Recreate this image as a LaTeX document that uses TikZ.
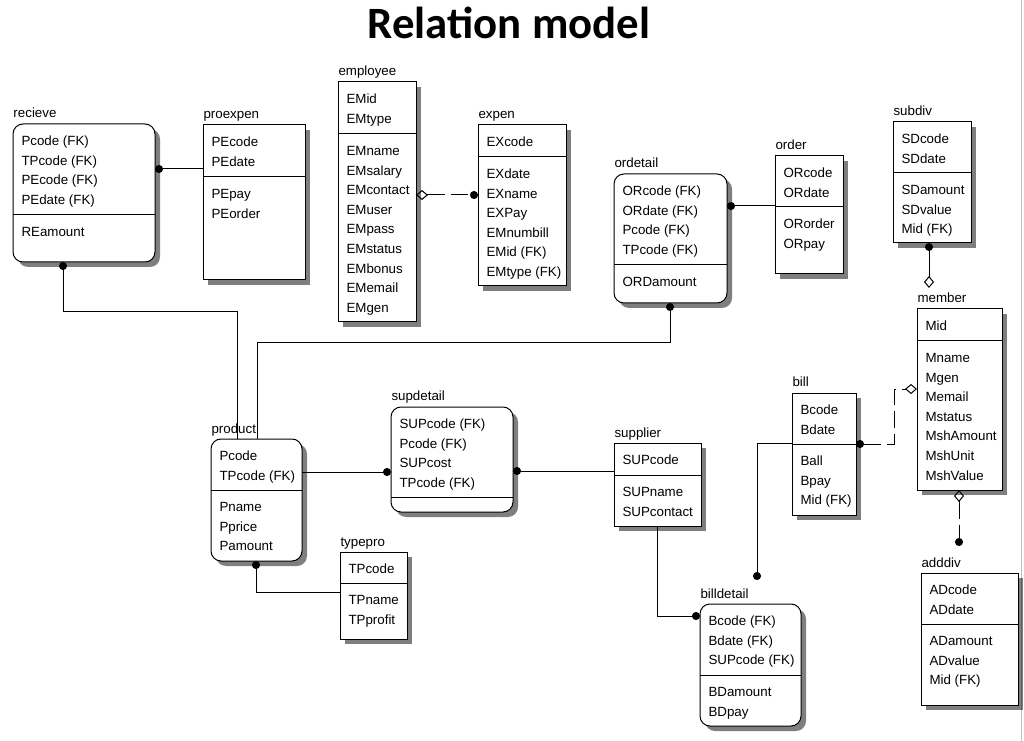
\documentclass[tikz,border=0pt]{standalone}
\usepackage{fontspec}
\setmainfont{Liberation Sans}
\newfontfamily\titlefont{Carlito}
\usetikzlibrary{arrows.meta, calc, shadows}

\tikzset{
  entity box/.style={draw, fill=white, inner sep=0pt, outer sep=0pt, anchor=north west,
    drop shadow={shadow xshift=3.75pt, shadow yshift=-3.75pt, fill=black, opacity=.5}},
  dependent/.style={rounded corners=7.5pt},
  entity label/.style={anchor=base west, inner sep=0pt, font=\fontsize{10}{14.7}\selectfont},
  entity text/.style={anchor=north west, inner sep=0pt, align=left, font=\fontsize{10}{14.7}\selectfont},
  rel/.style={line width=0.75pt},
  optional/.style={dash pattern=on 13pt off 4.5pt},
  ball/.tip={Circle[length=6pt]},
  rhomb/.tip={Diamond[open, length=9pt, width=7.5pt]},
}

% name, left, top, width, height, divider, keys, attributes, style
\newcommand{\entity}[9]{%
  \node[entity box, #9, minimum width=#4*0.75pt, minimum height=#5*0.75pt] (#1) at (#2,#3) {};
  \node[entity label] (#1-label) at ($(#1.north west)+(0,-6)$) {#1};
  \draw ($(#1.north west)+(0,#6)$) -- ($(#1.north east)+(0,#6)$);
  \node[entity text] (#1-keys) at ($(#1.north west)+(8,7.3)$) {\strut #7};
  \node[entity text] (#1-attrs) at ($(#1.north west)+(8,#6+7.3)$) {\strut #8};
}

\begin{document}
\begin{tikzpicture}[x=0.75pt, y=-0.75pt, line width=0.75pt]
  \useasboundingbox (0,0) rectangle (1024,741);
  \draw[black!25] (1021.5,0) -- (1021.5,741);
  \node[font=\titlefont\bfseries\fontsize{33.6}{40}\selectfont, anchor=base] (title) at (509,39) {Relation model};

  \entity{recieve}{13}{124}{142}{138}{91}{Pcode (FK)\\TPcode (FK)\\PEcode (FK)\\PEdate (FK)}{REamount}{dependent}
  \entity{proexpen}{203}{125}{102}{155}{52}{PEcode\\PEdate}{PEpay\\PEorder}{}
  \entity{employee}{338}{82}{78}{240}{52}{EMid\\EMtype}{EMname\\EMsalary\\EMcontact\\EMuser\\EMpass\\EMstatus\\EMbonus\\EMemail\\EMgen}{}
  \entity{expen}{478}{125}{88}{161}{32}{EXcode}{EXdate\\EXname\\EXPay\\EMnumbill\\EMid (FK)\\EMtype (FK)}{}
  \entity{ordetail}{614}{174}{113}{129}{91}{ORcode (FK)\\ORdate (FK)\\Pcode (FK)\\TPcode (FK)}{ORDamount}{dependent}
  \entity{order}{775}{156}{68}{118}{51}{ORcode\\ORdate}{ORorder\\ORpay}{}
  \entity{subdiv}{893}{122}{78}{121}{51}{SDcode\\SDdate}{SDamount\\SDvalue\\Mid (FK)}{}
  \entity{member}{917}{309}{85}{181}{32}{Mid}{Mname\\Mgen\\Memail\\Mstatus\\MshAmount\\MshUnit\\MshValue}{}
  \entity{bill}{792}{393}{64}{122}{51}{Bcode\\Bdate}{Ball\\Bpay\\Mid (FK)}{}
  \entity{product}{211}{439}{91}{122}{51}{Pcode\\TPcode (FK)}{Pname\\Pprice\\Pamount}{dependent}
  \entity{supdetail}{391}{407}{122}{105}{90}{SUPcode (FK)\\Pcode (FK)\\SUPcost\\TPcode (FK)}{}{dependent}
  \entity{supplier}{614}{443}{87}{83}{32}{SUPcode}{SUPname\\SUPcontact}{}
  \entity{typepro}{340}{552}{67}{87}{31}{TPcode}{TPname\\TPprofit}{}
  \entity{billdetail}{700}{604}{101}{122}{71}{Bcode (FK)\\Bdate (FK)\\SUPcode (FK)}{BDamount\\BDpay}{dependent}
  \entity{adddiv}{921}{573}{97}{132}{51}{ADcode\\ADdate}{ADamount\\ADvalue\\Mid (FK)}{}

  % recieve -- proexpen
  \coordinate (r1) at ($(recieve.north east)+(0,45)$);
  \draw[rel, ball-] (r1) -- (r1 -| proexpen.west);
  % recieve -- product
  \coordinate (r2) at ($(recieve.south west)+(50,0)$);
  \coordinate (p1) at ($(product.north west)+(26,0)$);
  \draw[rel, ball-] (r2) -- ++(0,50) -| (p1);
  % ordetail -- product
  \coordinate (o1) at ($(ordetail.south west)+(56,0)$);
  \coordinate (p2) at ($(product.north west)+(46,0)$);
  \draw[rel, ball-] (o1) -- ++(0,40) -| (p2);
  % product -- supdetail
  \coordinate (p3) at ($(product.north east)+(0,33)$);
  \draw[rel, -ball] (p3) -- (p3 -| supdetail.west);
  % supdetail -- supplier
  \coordinate (s1) at ($(supdetail.north east)+(0,64)$);
  \draw[rel, ball-] (s1) -- (s1 -| supplier.west);
  % product -- typepro
  \coordinate (p4) at ($(product.south west)+(45,0)$);
  \coordinate (t1) at ($(typepro.north west)+(0,40)$);
  \draw[rel, ball-] (p4) |- (t1);
  % supplier -- billdetail
  \coordinate (s2) at ($(supplier.south west)+(43,0)$);
  \coordinate (b1) at ($(billdetail.north west)+(0,12)$);
  \draw[rel, -ball] (s2) |- (b1);
  % bill -- billdetail
  \coordinate (b2) at ($(bill.north west)+(0,50)$);
  \coordinate (b3) at ($(billdetail.north west)+(57,-24)$);
  \draw[rel, -ball] (b2) -| (b3);
  % ordetail -- order
  \coordinate (o2) at ($(ordetail.north east)+(0,32)$);
  \draw[rel, ball-] (o2) -- (o2 -| order.west);
  % employee -- expen
  \coordinate (e1) at ($(employee.north east)+(0,113)$);
  \draw[rel, optional, rhomb-ball] (e1) -- (e1 -| expen.west);
  % subdiv -- member
  \coordinate (d1) at ($(subdiv.south west)+(36,0)$);
  \coordinate (m1) at ($(member.north west)+(12,-21)$);
  \draw[rel, ball-rhomb] (d1) -- (m1);
  % bill -- member
  \coordinate (b4) at ($(bill.north east)+(0,51)$);
  \coordinate (m2) at ($(member.north west)+(0,80)$);
  \draw[rel, optional, ball-rhomb] (b4) -- ++(38,0) |- (m2);
  % member -- adddiv
  \coordinate (m3) at ($(member.south west)+(42,0)$);
  \coordinate (a1) at ($(adddiv.north west)+(38,-27)$);
  \draw[rel, optional, rhomb-ball] (m3) -- (a1);
\end{tikzpicture}
\end{document}
